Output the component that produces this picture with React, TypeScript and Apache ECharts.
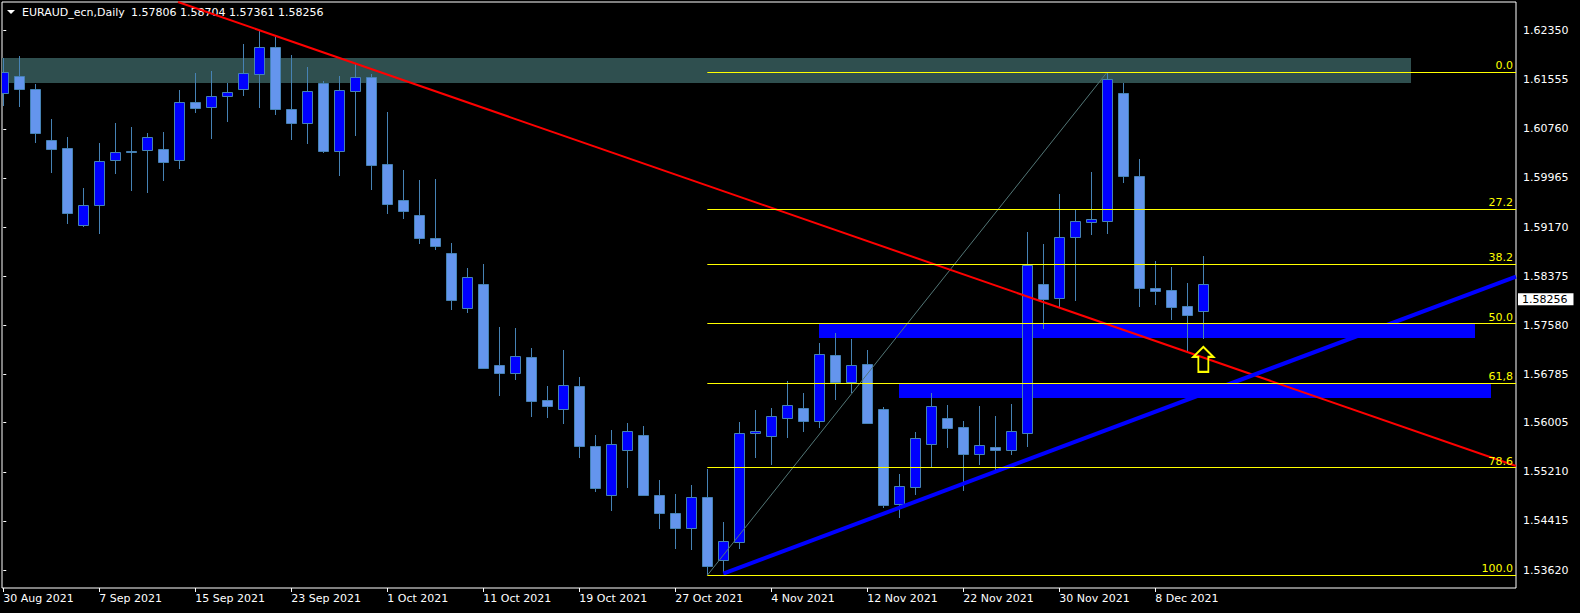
import React, { useEffect, useRef } from 'react';
import * as echarts from 'echarts';

// ---- data ----
const symbolTitle = 'EURAUD_ecn,Daily';

const dateLabels = ['30 Aug 2021', '7 Sep 2021', '15 Sep 2021', '23 Sep 2021', '1 Oct 2021', '11 Oct 2021', '19 Oct 2021', '27 Oct 2021', '4 Nov 2021', '12 Nov 2021', '22 Nov 2021', '30 Nov 2021', '8 Dec 2021'];
const dateTickIdx = [0, 6, 12, 18, 24, 30, 36, 42, 48, 54, 60, 66, 72];

const priceTicks = [1.6235, 1.61555, 1.6076, 1.59965, 1.5917, 1.58375, 1.5758, 1.56785, 1.56005, 1.5521, 1.54415, 1.5362];

const opens = [1.61334, 1.61614, 1.61403, 1.60578, 1.60449, 1.59198, 1.59522, 1.6025, 1.60405, 1.60412, 1.60433, 1.6025, 1.61193, 1.61107, 1.61285, 1.61408, 1.61641, 1.62078, 1.6108, 1.60848, 1.615, 1.60395, 1.61366, 1.61598, 1.6019, 1.59607, 1.59365, 1.58992, 1.5875, 1.57865, 1.58248, 1.56938, 1.568, 1.57067, 1.56371, 1.5623, 1.56598, 1.55627, 1.54829, 1.55557, 1.55805, 1.54834, 1.54543, 1.54305, 1.54802, 1.5379, 1.54069, 1.55832, 1.55784, 1.56075, 1.56242, 1.56026, 1.57099, 1.56667, 1.56954, 1.56226, 1.54683, 1.54959, 1.55654, 1.5608, 1.55934, 1.55502, 1.55611, 1.55557, 1.55832, 1.58248, 1.58014, 1.59004, 1.59256, 1.59263, 1.61339, 1.59996, 1.58183, 1.58151, 1.57892, 1.57806];
const closes = [1.61674, 1.61403, 1.60696, 1.60437, 1.59402, 1.59522, 1.60234, 1.60379, 1.60395, 1.60622, 1.60227, 1.61188, 1.61101, 1.61285, 1.6135, 1.61657, 1.62078, 1.61085, 1.60858, 1.61371, 1.60405, 1.61382, 1.61593, 1.60178, 1.59547, 1.59434, 1.58997, 1.58868, 1.57994, 1.58357, 1.56894, 1.56813, 1.57078, 1.5636, 1.56279, 1.56614, 1.55627, 1.54952, 1.55654, 1.5587, 1.54834, 1.54543, 1.54305, 1.54802, 1.53685, 1.54085, 1.55832, 1.55865, 1.56107, 1.56285, 1.56036, 1.57111, 1.56667, 1.56933, 1.56004, 1.54677, 1.54975, 1.55751, 1.56269, 1.55923, 1.55502, 1.55638, 1.55567, 1.55865, 1.58551, 1.5801, 1.59004, 1.59263, 1.59295, 1.6156, 1.6, 1.58188, 1.5814, 1.57881, 1.57751, 1.58256];
const highs = [1.619, 1.61937, 1.61484, 1.60918, 1.60627, 1.59802, 1.6053, 1.60853, 1.60789, 1.60691, 1.60708, 1.61387, 1.61662, 1.61695, 1.61505, 1.62132, 1.62358, 1.6225, 1.61954, 1.61759, 1.61533, 1.61614, 1.61803, 1.61646, 1.61031, 1.60093, 1.59931, 1.59947, 1.58912, 1.58507, 1.58572, 1.57552, 1.57536, 1.57212, 1.56598, 1.5718, 1.56743, 1.55805, 1.55886, 1.55999, 1.5595, 1.55077, 1.5485, 1.54996, 1.55255, 1.54397, 1.56015, 1.56209, 1.56242, 1.56679, 1.56484, 1.57293, 1.57455, 1.57358, 1.5718, 1.56258, 1.55174, 1.55853, 1.56484, 1.5629, 1.56031, 1.56274, 1.56112, 1.56306, 1.5909, 1.58895, 1.59704, 1.59446, 1.6006, 1.61679, 1.61496, 1.60271, 1.5862, 1.58523, 1.58264, 1.58704];
const lows = [1.61128, 1.61117, 1.60534, 1.60049, 1.59224, 1.59175, 1.59062, 1.60033, 1.59758, 1.59725, 1.5992, 1.60114, 1.6102, 1.60599, 1.60874, 1.61295, 1.61101, 1.60988, 1.60583, 1.60518, 1.60373, 1.6, 1.60648, 1.59774, 1.59386, 1.59305, 1.589, 1.58803, 1.57832, 1.57784, 1.56881, 1.56441, 1.567, 1.56096, 1.56085, 1.55988, 1.55437, 1.54882, 1.54575, 1.54952, 1.54823, 1.54284, 1.5396, 1.53944, 1.53535, 1.5358, 1.53968, 1.55437, 1.55324, 1.55761, 1.55858, 1.55923, 1.56376, 1.5648, 1.55988, 1.54628, 1.54467, 1.54839, 1.55292, 1.55599, 1.54903, 1.55324, 1.55238, 1.55486, 1.55616, 1.57512, 1.57865, 1.57978, 1.59046, 1.59065, 1.59887, 1.57881, 1.57913, 1.57671, 1.57169, 1.57361];

// visible window of the chart (bar index / price)
const X_MIN = -0.08;
const X_MAX = 94.54;
const Y_MIN = 1.53329;
const Y_MAX = 1.62811;

// annotation objects (bar index, price)
const zoneTeal = [-2, 1.61905, 88, 1.61505];
const zoneBlueUpper = [51, 1.57601, 92, 1.57374];
const zoneBlueLower = [56, 1.56646, 93, 1.56408];
const redTrend = [[10.92, 1.62811], [94.54, 1.55303]];
const blueTrend = [[45, 1.5356], [94.54, 1.58369]];
const fibFromIdx = 44;
const fibToIdx = 69;
const fibRatios = [0, 27.2, 38.2, 50, 61.8, 78.6, 100];
const fibNames = ['0.0', '27.2', '38.2', '50.0', '61,8', '78.6', '100.0'];
const arrowIdx = 75;
const arrowTipPrice = 1.57229;

const FONT = 'DejaVu Sans';
const BULL = '#0000FF';
const BEAR = '#6495ED';
const WICK = '#4682B4';

export default function App() {
  const ref = useRef<HTMLDivElement>(null);

  useEffect(() => {
    if (!ref.current) return;
    const chart = echarts.init(ref.current, null, { renderer: 'svg' });

    const candleData = opens.map((o, i) => [i, o, closes[i], lows[i], highs[i]]);
    const rectData = [
      [...zoneTeal, 0],
      [...zoneBlueUpper, 1],
      [...zoneBlueLower, 1],
    ];
    const rectColors = ['#2F4F4F', '#0000FF'];

    const fibHigh = highs[fibToIdx];
    const fibLow = lows[fibFromIdx];
    const fibLines = fibRatios.map((r, k) => {
      const lvl = fibHigh - (r / 100) * (fibHigh - fibLow);
      return [
        { coord: [fibFromIdx, lvl], name: fibNames[k] },
        { coord: [X_MAX, lvl] },
      ];
    });

    const last = opens.length - 1;
    const ohlcText = [opens[last], highs[last], lows[last], closes[last]].map((v) => v.toFixed(5)).join(' ');

    const option: any = {
      animation: false,
      backgroundColor: '#000000',
      textStyle: { fontFamily: FONT, fontSize: 11 },
      grid: {
        left: 2,
        right: 64,
        top: 2,
        bottom: 25,
        show: true,
        borderColor: '#FFFFFF',
        borderWidth: 1,
        backgroundColor: 'transparent',
      },
      xAxis: {
        type: 'value',
        min: X_MIN,
        max: X_MAX,
        position: 'bottom',
        axisLine: { show: false },
        splitLine: { show: false },
        axisTick: {
          show: true,
          customValues: dateTickIdx,
          length: 4,
          lineStyle: { color: '#FFFFFF', width: 1 },
        },
        axisLabel: {
          customValues: dateTickIdx,
          formatter: (v: number) => {
            const k = dateTickIdx.indexOf(Math.round(v));
            return k >= 0 ? dateLabels[k] : '';
          },
          align: 'left',
          color: '#FFFFFF',
          margin: 5,
          fontFamily: FONT,
          fontSize: 11,
        },
      },
      yAxis: {
        type: 'value',
        position: 'right',
        min: Y_MIN,
        max: Y_MAX,
        scale: true,
        axisLine: { show: false },
        splitLine: { show: false },
        axisTick: {
          show: true,
          customValues: priceTicks,
          length: 3,
          lineStyle: { color: '#FFFFFF', width: 1 },
        },
        axisLabel: {
          customValues: priceTicks,
          formatter: (v: number) => v.toFixed(5),
          color: '#FFFFFF',
          margin: 7,
          fontFamily: FONT,
          fontSize: 11,
        },
      },
      graphic: [
        {
          type: 'polygon',
          shape: { points: [[7, 10], [15, 10], [11, 14]] },
          style: { fill: '#FFFFFF' },
        },
        {
          type: 'text',
          x: 22,
          y: 12.5,
          style: { text: symbolTitle, fill: '#FFFFFF', font: `11px "${FONT}"`, verticalAlign: 'middle' },
        },
        {
          type: 'text',
          x: 131,
          y: 12.5,
          style: { text: ohlcText, fill: '#FFFFFF', font: `11px "${FONT}"`, verticalAlign: 'middle' },
        },
      ],
      series: [
        {
          name: 'zones',
          type: 'custom',
          z: 1,
          clip: true,
          silent: true,
          data: rectData,
          encode: { x: [0, 2], y: [1, 3] },
          renderItem: (params: any, api: any) => {
            const p1 = api.coord([api.value(0), api.value(1)]);
            const p2 = api.coord([api.value(2), api.value(3)]);
            const x = Math.round(Math.min(p1[0], p2[0]));
            const y = Math.round(Math.min(p1[1], p2[1]));
            const w = Math.round(Math.abs(p2[0] - p1[0]));
            const h = Math.round(Math.abs(p2[1] - p1[1]));
            return {
              type: 'rect',
              shape: { x, y, width: w, height: h },
              style: { fill: rectColors[api.value(4)] },
            };
          },
        },
        {
          name: 'candles',
          type: 'custom',
          z: 2,
          clip: true,
          silent: true,
          data: candleData,
          encode: { x: 0, y: [1, 2, 3, 4] },
          renderItem: (params: any, api: any) => {
            const i = api.value(0);
            const o = api.value(1);
            const c = api.value(2);
            const l = api.value(3);
            const h = api.value(4);
            const pO = api.coord([i, o]);
            const pC = api.coord([i, c]);
            const pL = api.coord([i, l]);
            const pH = api.coord([i, h]);
            const cx = Math.round(pO[0]) + 0.5;
            const top = Math.round(Math.min(pO[1], pC[1])) + 0.5;
            let bot = Math.round(Math.max(pO[1], pC[1])) + 0.5;
            if (bot - top < 1) bot = top + 1;
            const bull = c >= o;
            return {
              type: 'group',
              children: [
                {
                  type: 'line',
                  shape: { x1: cx, y1: Math.round(pH[1]), x2: cx, y2: Math.round(pL[1]) },
                  style: { stroke: WICK, lineWidth: 1 },
                },
                {
                  type: 'rect',
                  shape: { x: cx - 5, y: top, width: 10, height: bot - top },
                  style: { fill: bull ? BULL : BEAR, stroke: WICK, lineWidth: 1 },
                },
              ],
            };
          },
        },
        {
          name: 'fib',
          type: 'line',
          z: 3,
          silent: true,
          clip: true,
          symbol: 'none',
          data: [
            [fibFromIdx, fibLow],
            [fibToIdx, fibHigh],
          ],
          lineStyle: { color: '#527676', width: 1, type: 'solid' },
          markLine: {
            silent: true,
            symbol: ['none', 'none'],
            animation: false,
            lineStyle: { color: '#FFFF00', width: 1, type: 'solid' },
            label: {
              show: true,
              position: 'insideEndTop',
              formatter: (p: any) => p.name,
              color: '#FFFF00',
              distance: [3, 1],
              fontFamily: FONT,
              fontSize: 11,
            },
            emphasis: { disabled: true },
            data: fibLines,
          },
        },
        {
          name: 'redTrend',
          type: 'line',
          z: 4,
          silent: true,
          clip: true,
          symbol: 'none',
          data: redTrend,
          lineStyle: { color: '#FF0000', width: 2 },
        },
        {
          name: 'blueTrend',
          type: 'line',
          z: 4,
          silent: true,
          clip: true,
          symbol: 'none',
          data: blueTrend,
          lineStyle: { color: '#0000FF', width: 4 },
          markPoint: {
            silent: true,
            animation: false,
            data: [
              {
                coord: [arrowIdx, arrowTipPrice],
                symbol: 'path://M10,0 L20,10 L15,10 L15,25 L5,25 L5,10 L0,10 Z',
                symbolSize: [20, 25],
                symbolOffset: [0, '50%'],
                itemStyle: { color: 'rgba(0,0,0,0)', borderColor: '#FFFF00', borderWidth: 2 },
                label: { show: false },
              },
            ],
          },
        },
        {
          name: 'lastPrice',
          type: 'line',
          z: 6,
          silent: true,
          clip: false,
          symbol: 'none',
          data: [[last, closes[last]]],
          lineStyle: { color: 'transparent', width: 0 },
          markLine: {
            silent: true,
            symbol: ['none', 'none'],
            animation: false,
            z: 10,
            lineStyle: { color: 'transparent', width: 0 },
            emphasis: { disabled: true },
            data: [
              {
                yAxis: closes[last],
                label: {
                  show: true,
                  position: 'end',
                  distance: 2,
                  formatter: closes[last].toFixed(5),
                  color: '#000000',
                  backgroundColor: '#FFFFFF',
                  padding: [1, 6, 0, 4],
                  fontFamily: FONT,
                  fontSize: 11,
                },
              },
            ],
          },
        },
      ],
    };

    chart.setOption(option);
    return () => {
      chart.dispose();
    };
  }, []);

  return (
    <div
      ref={ref}
      style={{ position: 'fixed', left: 0, top: 0, width: 1580, height: 613, background: '#000000' }}
    />
  );
}
